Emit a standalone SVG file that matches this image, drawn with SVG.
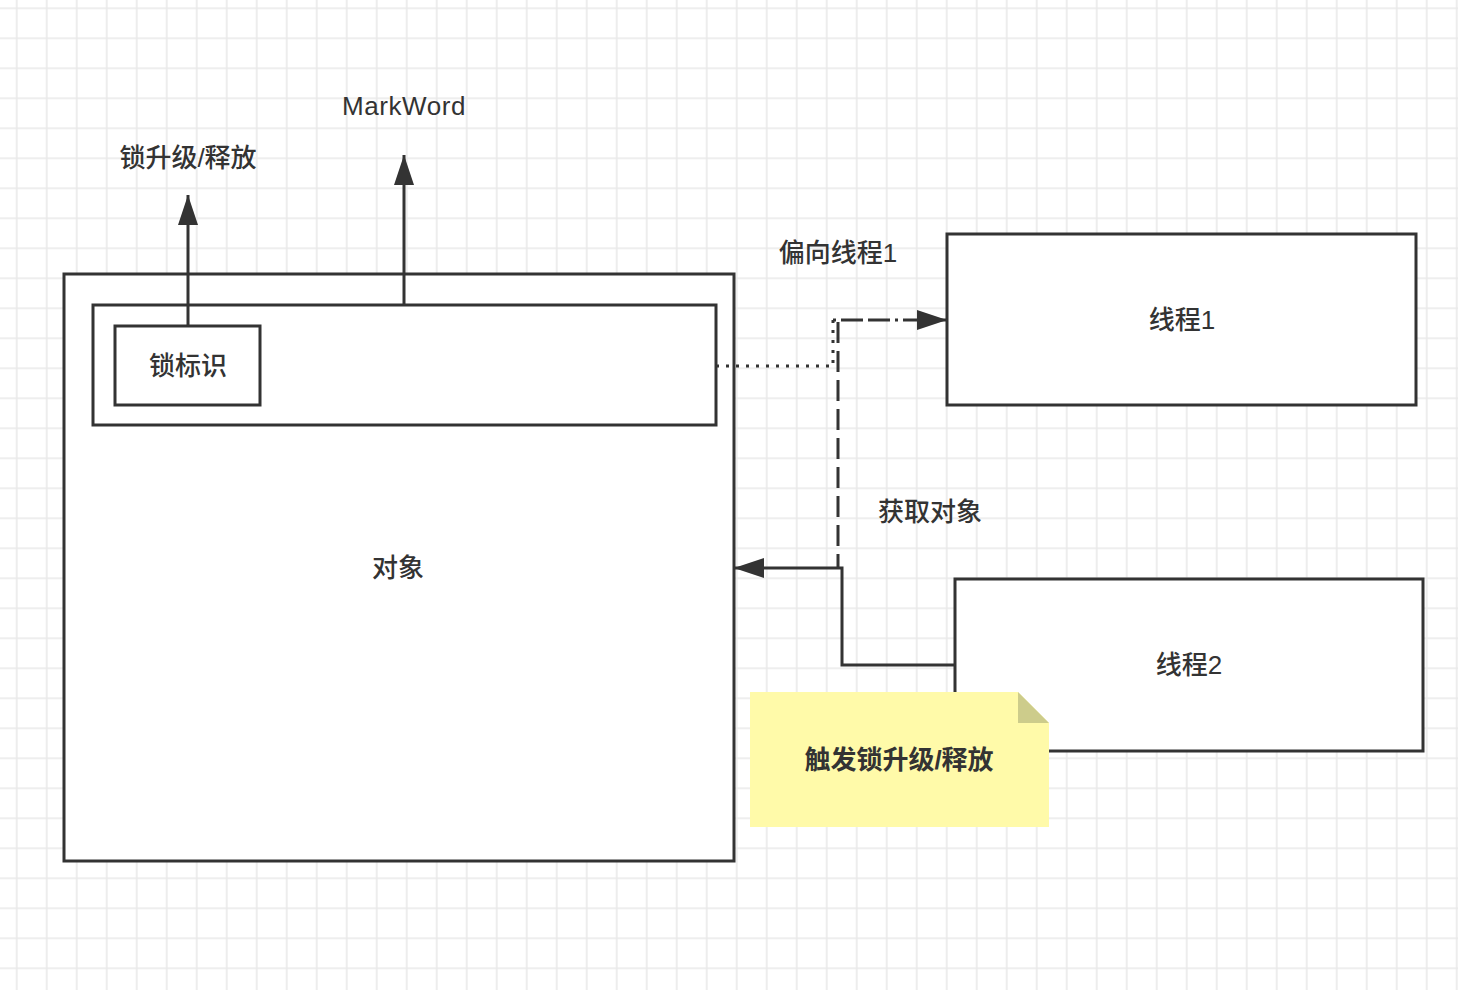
<svg xmlns="http://www.w3.org/2000/svg" width="1458" height="990" viewBox="0 0 1458 990">
  <defs>
    <pattern id="grid" patternUnits="userSpaceOnUse" x="1.7" y="-6.7" width="30" height="30">
      <path d="M15 0V30M0 15H30" stroke="#e9e9e9" stroke-width="1.6" fill="none"/>
    </pattern>
    <marker id="arrow" viewBox="0 0 30 20" refX="30" refY="10" markerWidth="30" markerHeight="20" markerUnits="userSpaceOnUse" orient="auto">
      <path d="M0 0L30 10L0 20Z" fill="#333"/>
    </marker>
  </defs>
  <style>
    .box { fill: #fff; stroke: #333; stroke-width: 3; }
    .edge { fill: none; stroke: #333; stroke-width: 3; }
    .lbl { font-family: "Liberation Sans", "Noto Sans CJK SC", sans-serif; font-size: 26px; font-weight: 500; fill: #333; text-anchor: middle; dominant-baseline: central; }
  </style>

  <rect width="1458" height="990" fill="#fff"/>
  <rect width="1458" height="990" fill="url(#grid)"/>

  <!-- object -->
  <g id="object">
    <rect class="box" x="64" y="274" width="670" height="587"/>
    <text class="lbl" x="398" y="568">对象</text>
  </g>

  <!-- mark word header -->
  <g id="markword">
    <rect class="box" x="93" y="305" width="623" height="120"/>
  </g>

  <!-- lock flag -->
  <g id="lockflag">
    <rect class="box" x="115" y="326" width="145" height="79"/>
    <text class="lbl" x="188" y="366">锁标识</text>
  </g>

  <!-- thread 1 -->
  <g id="thread1">
    <rect class="box" x="947" y="234" width="469" height="171"/>
    <text class="lbl" x="1182" y="320">线程1</text>
  </g>

  <!-- thread 2 -->
  <g id="thread2">
    <rect class="box" x="955" y="579" width="468" height="172"/>
    <text class="lbl" x="1189" y="665">线程2</text>
  </g>

  <!-- connectors -->
  <g id="connectors">
    <path class="edge" d="M188 326V195" marker-end="url(#arrow)"/>
    <path class="edge" d="M404 305V155" marker-end="url(#arrow)"/>
    <path class="edge" d="M716 366H833V320" stroke-dasharray="3 7"/>
    <path class="edge" d="M833 320H947" stroke-dasharray="3 5 22 5 22 5" marker-end="url(#arrow)"/>
    <path class="edge" d="M838 322V568" stroke-dasharray="21 8"/>
    <path class="edge" d="M955 665H842V568H734" marker-end="url(#arrow)"/>
  </g>

  <!-- free labels -->
  <g id="labels">
    <text class="lbl" x="188" y="158">锁升级/释放</text>
    <text class="lbl" x="404" y="106" style="letter-spacing:0.6px">MarkWord</text>
    <text class="lbl" x="838" y="253">偏向线程1</text>
    <text class="lbl" x="930" y="512">获取对象</text>
  </g>

  <!-- note -->
  <g id="note">
    <path d="M750 692H1018L1049 723V827H750Z" fill="#fffaa9"/>
    <path d="M1018 692V723H1049Z" fill="#cdcc8b"/>
    <text class="lbl" x="899" y="760" style="font-weight:bold">触发锁升级/释放</text>
  </g>
</svg>
